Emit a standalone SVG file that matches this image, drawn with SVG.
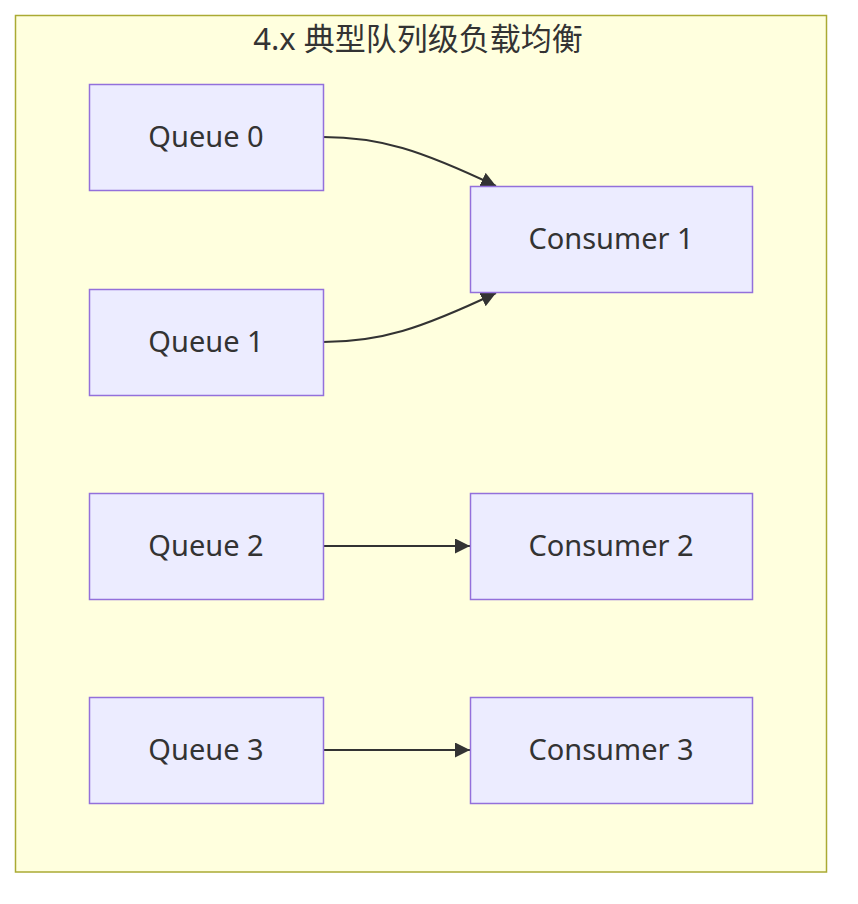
<svg xmlns="http://www.w3.org/2000/svg" width="858" height="904" viewBox="0 0 858 904">
<style>
.cluster{fill:#ffffde;stroke:#aaaa33;stroke-width:1.5}
.node rect{fill:#ececff;stroke:#9370db;stroke-width:1.5}
.label{font-family:"Noto Sans","Open Sans","Noto Sans CJK SC",sans-serif;font-size:29px;fill:#333;text-anchor:middle}
.title{font-family:"Noto Sans","Noto Sans CJK SC",sans-serif;font-size:31px;fill:#333;text-anchor:middle}
.edge{fill:none;stroke:#333;stroke-width:2}
</style>
<defs>
<marker id="arrow" markerUnits="userSpaceOnUse" markerWidth="16" markerHeight="16" refX="15" refY="7.5" orient="auto">
<path d="M0,0 L15,7.5 L0,15 z" fill="#333"/>
</marker>
</defs>
<g id="cluster">
<rect class="cluster" x="15.5" y="15.5" width="811" height="856.5"/>
<text class="title" x="418" y="50">4.x 典型队列级负载均衡</text>
</g>
<g id="edges">
<path class="edge" d="M323,137 C380,137 420,150 496,186" marker-end="url(#arrow)"/>
<path class="edge" d="M323,342 C380,342 420,329 496,293" marker-end="url(#arrow)"/>
<path class="edge" d="M323,546 L470,546" marker-end="url(#arrow)"/>
<path class="edge" d="M323,750 L470,750" marker-end="url(#arrow)"/>
</g>
<g id="Q0" class="node"><rect x="89.5" y="84.5" width="234" height="106"/><text class="label" x="206" y="147">Queue 0</text></g>
<g id="Q1" class="node"><rect x="89.5" y="289.5" width="234" height="106"/><text class="label" x="206" y="352">Queue 1</text></g>
<g id="Q2" class="node"><rect x="89.5" y="493.5" width="234" height="106"/><text class="label" x="206" y="556">Queue 2</text></g>
<g id="Q3" class="node"><rect x="89.5" y="697.5" width="234" height="106"/><text class="label" x="206" y="760">Queue 3</text></g>
<g id="C1" class="node"><rect x="470.5" y="186.5" width="282" height="106"/><text class="label" x="611" y="249">Consumer 1</text></g>
<g id="C2" class="node"><rect x="470.5" y="493.5" width="282" height="106"/><text class="label" x="611" y="556">Consumer 2</text></g>
<g id="C3" class="node"><rect x="470.5" y="697.5" width="282" height="106"/><text class="label" x="611" y="760">Consumer 3</text></g>
</svg>
